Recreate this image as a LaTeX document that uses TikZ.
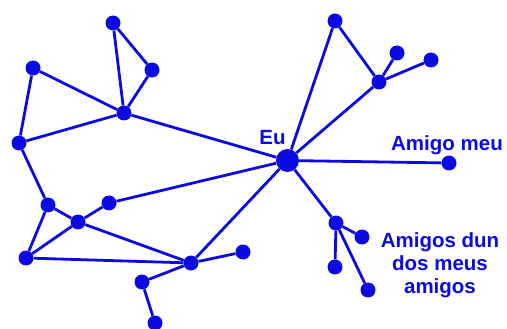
\documentclass[tikz,border=0pt]{standalone}
\usepackage{fontspec}
\setmainfont{Liberation Sans}
\definecolor{netblue}{RGB}{10,10,225}
\tikzset{
  dot/.style={circle, fill=netblue, draw=none, inner sep=0pt, minimum size=15pt},
  bigdot/.style={circle, fill=netblue, draw=none, inner sep=0pt, minimum size=23pt},
  link/.style={draw=netblue, line width=2.8pt},
  lbl/.style={text=netblue, font=\fontsize{20.5}{23}\selectfont\bfseries, inner sep=0pt}
}
\begin{document}
\begin{tikzpicture}[x=1pt, y=-1pt]
\useasboundingbox (0,0) rectangle (507,329);
% people
\node[bigdot] (eu) at (287.5,160.5) {};
\node[dot] (a) at (113,23) {};
\node[dot] (b) at (152,70) {};
\node[dot] (c) at (33,68) {};
\node[dot] (d) at (124,113) {};
\node[dot] (e) at (19,143) {};
\node[dot] (f) at (48,205) {};
\node[dot] (g) at (78,222) {};
\node[dot] (h) at (109,203) {};
\node[dot] (i) at (26,258) {};
\node[dot] (j) at (191,263) {};
\node[dot] (k) at (243,252) {};
\node[dot] (l) at (142,282) {};
\node[dot] (m) at (155,323) {};
\node[dot] (n) at (335,21) {};
\node[dot] (o) at (379,82) {};
\node[dot] (p) at (397,53) {};
\node[dot] (q) at (431,60) {};
\node[dot] (friend) at (449,163) {};
\node[dot] (r) at (336,223) {};
\node[dot] (s) at (362,237) {};
\node[dot] (t) at (335,267) {};
\node[dot] (u) at (368,290) {};
% acquaintances
\draw[link] (a) -- (b) (a) -- (d) (b) -- (d) (c) -- (d) (c) -- (e) (e) -- (d)
  (d) -- (eu) (e) -- (f) (f) -- (g) (f) -- (i) (g) -- (i) (g) -- (h)
  (h) -- (eu) (g) -- (j) (i) -- (j) (j) -- (eu) (j) -- (k) (j) -- (l)
  (l) -- (m) (eu) -- (n) (n) -- (o) (eu) -- (o) (o) -- (p) (o) -- (q)
  (eu) -- (friend) (eu) -- (r) (r) -- (s) (r) -- (t) (r) -- (u);
% labels
\node[lbl, anchor=base] (eulbl) at (272.5,145) {Eu};
\node[lbl, anchor=base] (friendlbl) at (447,151) {Amigo meu};
\node[lbl, anchor=north, align=center] (fofl) at (440,232) {Amigos dun\\dos meus\\amigos};
\end{tikzpicture}
\end{document}
